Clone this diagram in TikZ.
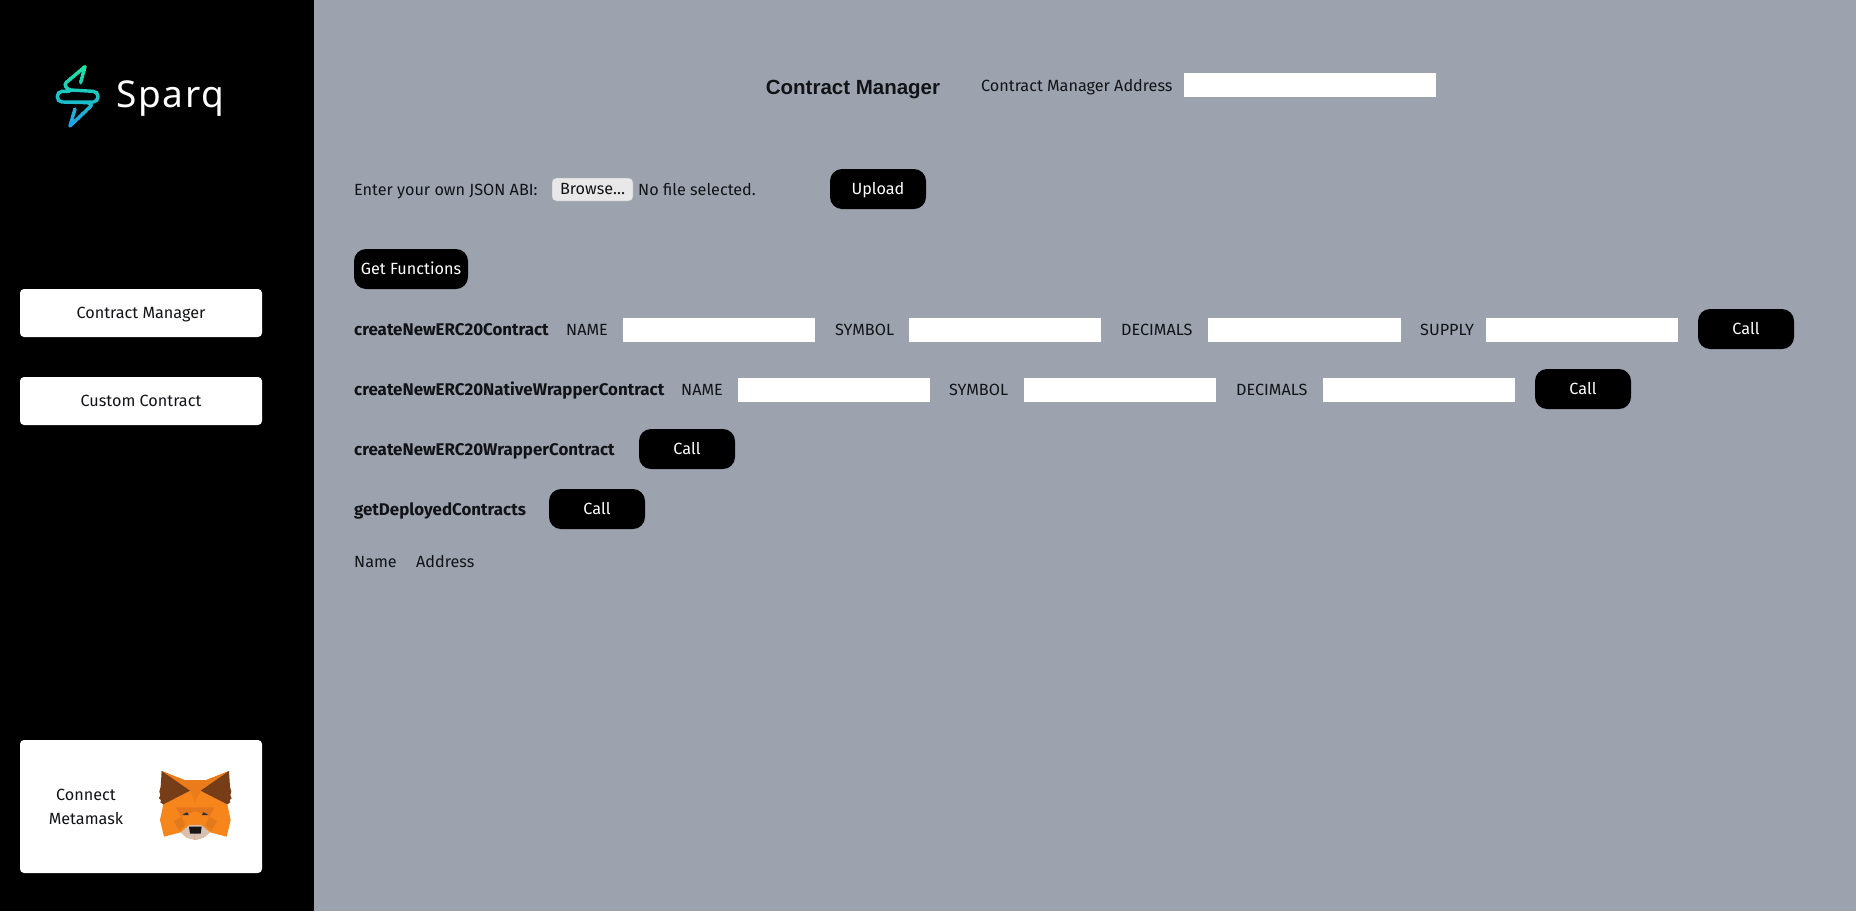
\documentclass[tikz,border=0pt]{standalone}
\usepackage{fontspec}
\setmainfont{Fira Sans}
\newfontfamily\titlefont{Liberation Sans}
\newfontfamily\logofont[LetterSpace=4.5]{Noto Sans}

\definecolor{pagegray}{HTML}{9CA3AF}
\definecolor{inktext}{HTML}{111317}
\definecolor{boltgreen}{HTML}{1CE8A0}
\definecolor{boltblue}{HTML}{1DA0E8}
\definecolor{foxorange}{HTML}{F6851B}
\definecolor{foxdeep}{HTML}{E4761B}
\definecolor{foxdark}{HTML}{E27A1C}
\definecolor{foxbrown}{HTML}{763D16}
\definecolor{foxbeige}{HTML}{D7C1B3}
\definecolor{foxnose}{HTML}{161616}
\definecolor{foxeye}{HTML}{233447}

% The two strands of the logo.
\newcommand{\boltstrands}{
    (152,128) -- (165,80) -- (108,128) to [out = 225, in = 180] (122,150)
    -- (190,154) to [out = 0, in = 0, looseness = 1.5] (190,186) -- (118,186)
    (118,154) -- (96,154) to [out = 180, in = 180, looseness = 1.5] (96,186)
    -- (172,188) to [out = 0, in = 45] (183,198) -- (120,258) -- (135,207)
}

\begin{document}
\begin{tikzpicture}[%
        x = 1pt,
        y = -1pt,
        every node/.style = {inner sep = 0, text = inktext, font = \fontsize{16.2}{24}\selectfont},
        label/.style = {anchor = base west, yshift = -6pt},
        funcname/.style = {anchor = base west, yshift = -6pt, font = \fontsize{16.9}{24}\selectfont\bfseries},
        field/.style = {fill = white, minimum width = 192.5pt, minimum height = 24pt},
        blackbtn/.style = {fill = black, rounded corners = 12pt, minimum width = 96pt,
            minimum height = 40pt, text = white, text height = 10pt, text depth = 0pt},
        sidebtn/.style = {fill = white, rounded corners = 4pt, minimum width = 242pt,
            minimum height = 48pt, text height = 10pt, text depth = 0pt}
    ]

        % Page and sidebar.
        \fill[pagegray] (0,0) rectangle (1856,911);
        \fill[black] (0,0) rectangle (314,911);
        \useasboundingbox (0,0) rectangle (1856,911);

        % Logo: the strands are cut in bands to fade from green to blue.
        \begin{scope}[shift = {(30,40)}, x = 0.3333pt, y = -0.3333pt]
            \foreach \i in {0,...,18} {
                \pgfmathsetmacro{\share}{100-\i*100/18}
                \begin{scope}
                    \clip (60,{70+\i*10.5}) rectangle (225,{70+(\i+1)*10.5});
                    \draw[boltgreen!\share!boltblue, line width = 3.4pt, line cap = round,
                        line join = round] \boltstrands;
                \end{scope}
            }
        \end{scope}
        \node[anchor = base west, text = white, font = \fontsize{37}{40}\selectfont\logofont] (logotext)
            at (116,107) {Sparq};

        % Sidebar buttons.
        \node[sidebtn] (managerbtn) at (141,313) {Contract Manager};
        \node[sidebtn] (custombtn) at (141,401) {Custom Contract};
        \node[sidebtn, minimum height = 133pt] (connectbox) at (141,806.5) {};
        \node[align = center] (connecttext) at (86,807) {Connect\\Metamask};

        % Fox head, one half drawn twice, the nose on top.
        \begin{scope}[shift = {(140,745)}, x = 0.3333pt, y = -0.3333pt]
            \foreach \side in {1,-1} {
                \begin{scope}[shift = {(166,0)}, xscale = \side]
                    \fill[foxorange] (-101,78) -- (-33,105) -- (2,105) -- (2,285) -- (-25,278)
                        -- (-44,262) -- (-94,275) -- (-106,225) -- (-96,178) -- cycle;
                    \fill[foxdeep!60!foxorange] (-101,78) -- (-33,105) -- (2,105) -- (2,175) -- (-16,137) -- cycle;
                    \fill[foxbrown] (-101,78) -- (-16,137) -- (-96,178) -- (-105,172) -- (-103,165)
                        -- (-109,160) -- (-105,150) -- (-108,140) -- (-104,125) -- cycle;
                    \fill[foxdeep] (-58,187) -- (2,187) -- (2,198) -- (-18,205) -- (-42,215) -- cycle;
                    \fill[foxdark] (-65,228) -- (-48,258) -- (-30,240) -- (-42,215) -- cycle;
                    \fill[foxeye] (-38,208) -- (-24,202) -- (-20,210) -- (-32,210) -- cycle;
                    \fill[foxbeige] (-44,262) -- (-18,240) -- (2,240) -- (2,285) -- (-25,278) -- cycle;
                \end{scope}
            }
            \fill[foxnose] (147,245) -- (185,245) -- (182,266) -- (150,266) -- cycle;
        \end{scope}

        % Header.
        \node[font = \fontsize{20.5}{24}\selectfont\titlefont\bfseries] (title) at (853,89.5) {Contract Manager};
        \node[label] (addresslabel) at (981,85) {Contract Manager Address};
        \node[field, minimum width = 252pt] (addressfield) at (1310,85) {};

        % File upload row.
        \node[label] (abilabel) at (354,189) {Enter your own JSON ABI:};
        \node[fill = black!9, draw = black!35, rounded corners = 4pt, minimum width = 81pt,
            minimum height = 23pt, text height = 10pt, text depth = 0pt] (browsebtn) at (592.5,189.5) {Browse…};
        \node[label] (nofile) at (638,189) {No file selected.};
        \node[blackbtn] (uploadbtn) at (878,189) {Upload};
        \node[blackbtn, minimum width = 114pt] (getbtn) at (411,269) {Get Functions};

        % createNewERC20Contract:
        \node[funcname] (funcA) at (354,329) {createNewERC20Contract};
        \node[label] (nameA) at (566,329) {NAME};
        \node[field] (nameAfield) at (719,329.5) {};
        \node[label] (symbolA) at (835,329) {SYMBOL};
        \node[field] (symbolAfield) at (1005,329.5) {};
        \node[label] (decimalsA) at (1121,329) {DECIMALS};
        \node[field] (decimalsAfield) at (1304.5,329.5) {};
        \node[label] (supplyA) at (1420,329) {SUPPLY};
        \node[field] (supplyAfield) at (1582,329.5) {};
        \node[blackbtn] (callA) at (1746,329) {Call};

        % createNewERC20NativeWrapperContract:
        \node[funcname] (funcB) at (354,389) {createNewERC20NativeWrapperContract};
        \node[label] (nameB) at (681,389) {NAME};
        \node[field] (nameBfield) at (834,390) {};
        \node[label] (symbolB) at (949,389) {SYMBOL};
        \node[field] (symbolBfield) at (1120,390) {};
        \node[label] (decimalsB) at (1236,389) {DECIMALS};
        \node[field] (decimalsBfield) at (1419,390) {};
        \node[blackbtn] (callB) at (1583,389) {Call};

        % The two functions without arguments.
        \node[funcname] (funcC) at (354,449) {createNewERC20WrapperContract};
        \node[blackbtn] (callC) at (687,449) {Call};
        \node[funcname] (funcD) at (354,509) {getDeployedContracts};
        \node[blackbtn] (callD) at (597,509) {Call};

        % Table head.
        \node[label] (namehead) at (354,561) {Name};
        \node[label] (addresshead) at (416,561) {Address};
    \end{tikzpicture}
\end{document}
